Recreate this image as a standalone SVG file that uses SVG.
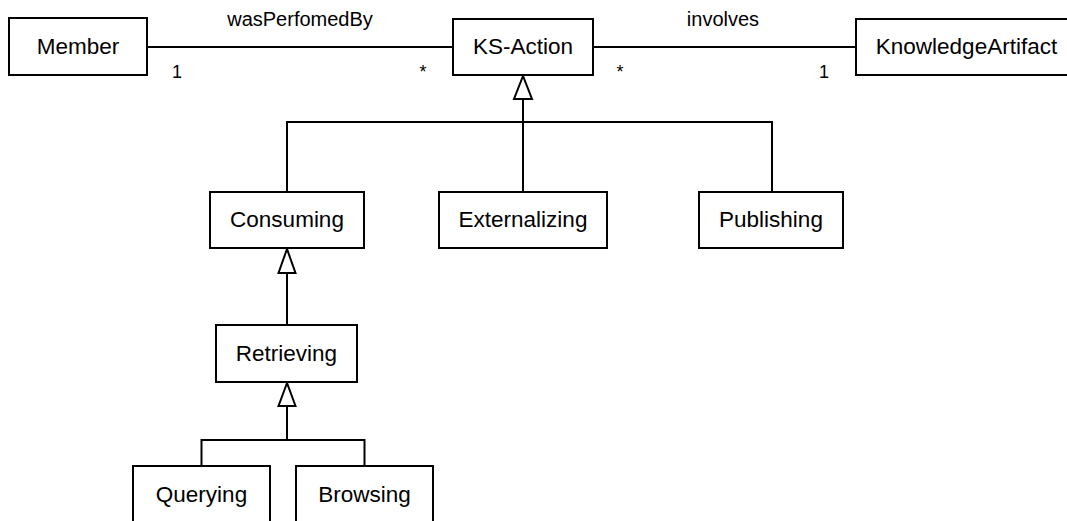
<svg xmlns="http://www.w3.org/2000/svg" width="1067" height="521" viewBox="0 0 1067 521">
  <style>
    .box { fill: #ffffff; stroke: #000000; stroke-width: 2; }
    .name { font-family: "Liberation Sans", Arial, sans-serif; font-size: 22.5px; fill: #000000; text-anchor: middle; }
    .label { font-family: "Liberation Sans", Arial, sans-serif; font-size: 20px; fill: #000000; text-anchor: middle; }
    .mult { font-family: "Liberation Sans", Arial, sans-serif; font-size: 18px; fill: #000000; text-anchor: middle; }
    .line { fill: none; stroke: #000000; stroke-width: 2; }
    .gen { fill: #ffffff; stroke: #000000; stroke-width: 2; stroke-linejoin: miter; }
  </style>
  <rect width="1067" height="521" fill="#ffffff"/>

  <!-- connectors: associations and generalizations -->
  <g id="connectors">
    <!-- Member 1 — * KS-Action -->
    <line class="line" x1="147" y1="47" x2="453" y2="47"/>
    <text class="label" x="300" y="26">wasPerfomedBy</text>
    <text class="mult" x="177" y="78">1</text>
    <text class="mult" x="423" y="78">*</text>

    <!-- KS-Action * — 1 KnowledgeArtifact -->
    <line class="line" x1="593" y1="47" x2="856" y2="47"/>
    <text class="label" x="723" y="26">involves</text>
    <text class="mult" x="620" y="78">*</text>
    <text class="mult" x="824" y="78">1</text>

    <!-- subclasses of KS-Action -->
    <path class="line" d="M523 99 V192 M287 192 V122 H772 V192"/>
    <line class="line" x1="523" y1="99" x2="523" y2="122" stroke-width="2.6"/>
    <polygon class="gen" points="523,76 514,99 532,99"/>

    <!-- Retrieving specializes Consuming -->
    <line class="line" x1="287" y1="273" x2="287" y2="325"/>
    <polygon class="gen" points="287,249 278.5,273 295.5,273"/>

    <!-- subclasses of Retrieving -->
    <path class="line" d="M287 406 V440 M201.5 466 V440 H364.5 V466"/>
    <polygon class="gen" points="287,383 278.5,406 295.5,406"/>
  </g>

  <g id="member">
    <rect class="box" x="9" y="18" width="138" height="57"/>
    <text class="name" x="78" y="53.5">Member</text>
  </g>

  <g id="ks-action">
    <rect class="box" x="453" y="19" width="140" height="56"/>
    <text class="name" x="523" y="54">KS-Action</text>
  </g>

  <g id="knowledge-artifact">
    <rect class="box" x="856" y="19" width="225" height="56"/>
    <text class="name" x="966.5" y="54">KnowledgeArtifact</text>
  </g>

  <g id="consuming">
    <rect class="box" x="210" y="192" width="154" height="56"/>
    <text class="name" x="287" y="227">Consuming</text>
  </g>

  <g id="externalizing">
    <rect class="box" x="439" y="192" width="168" height="56"/>
    <text class="name" x="523" y="227">Externalizing</text>
  </g>

  <g id="publishing">
    <rect class="box" x="699" y="192" width="144" height="56"/>
    <text class="name" x="771" y="227">Publishing</text>
  </g>

  <g id="retrieving">
    <rect class="box" x="216" y="325" width="141" height="57"/>
    <text class="name" x="286.5" y="361">Retrieving</text>
  </g>

  <g id="querying">
    <rect class="box" x="133" y="466" width="137" height="57"/>
    <text class="name" x="201.5" y="502">Querying</text>
  </g>

  <g id="browsing">
    <rect class="box" x="296" y="466" width="137" height="57"/>
    <text class="name" x="364.5" y="502">Browsing</text>
  </g>
</svg>
